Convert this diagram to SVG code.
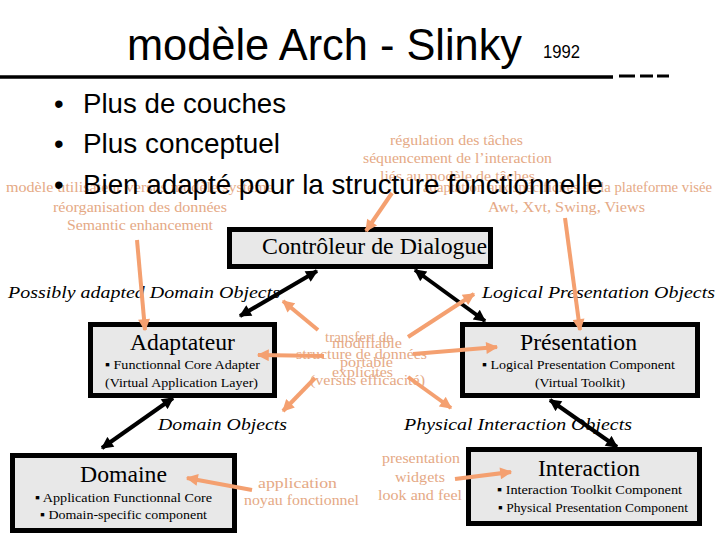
<svg xmlns="http://www.w3.org/2000/svg" width="720" height="540" viewBox="0 0 720 540">
<style>
.title{font-family:"Liberation Sans",Arial,sans-serif;fill:#000}
.bul{font-family:"Liberation Sans",Arial,sans-serif;font-size:27.5px;fill:#000}
.note{font-family:"Liberation Serif","Times New Roman",serif;font-size:14px;fill:#e5a985}
.lab{font-family:"Liberation Serif","Times New Roman",serif;font-size:17px;font-style:italic;fill:#000}
.box{fill:#e8e8e8;stroke:#000;stroke-width:5}
.bt{font-family:"Liberation Serif","Times New Roman",serif;font-size:23px;fill:#000}
.bs{font-family:"Liberation Serif","Times New Roman",serif;font-size:13.5px;fill:#000}
.blk{stroke:#000;stroke-width:4;fill:none;marker-start:url(#ab);marker-end:url(#ab)}
.org{stroke:#f4a070;stroke-width:4;fill:none;marker-end:url(#ao)}
</style>
<defs>
<marker id="ab" viewBox="0 0 10 10" refX="9" refY="5" markerWidth="14" markerHeight="12" markerUnits="userSpaceOnUse" orient="auto-start-reverse"><path d="M0,0 L10,5 L0,10 z" fill="#000"/></marker>
<marker id="ao" viewBox="0 0 10 10" refX="9" refY="5" markerWidth="13" markerHeight="12" markerUnits="userSpaceOnUse" orient="auto"><path d="M0,0 L10,5 L0,10 z" fill="#f4a070"/></marker>
</defs>
<rect width="720" height="540" fill="#fff"/>

<g id="title">
<text class="title" x="127" y="60" font-size="44" textLength="395" lengthAdjust="spacingAndGlyphs">modèle Arch - Slinky</text>
<text class="title" x="543" y="58" font-size="19" textLength="37" lengthAdjust="spacingAndGlyphs">1992</text>
<line x1="0" y1="77" x2="613" y2="77" stroke="#000" stroke-width="3.5"/>
<line x1="619" y1="76" x2="635" y2="76" stroke="#000" stroke-width="3"/>
<line x1="640" y1="76" x2="653" y2="76" stroke="#000" stroke-width="3"/>
<line x1="657" y1="76" x2="669" y2="76" stroke="#000" stroke-width="3"/>
</g>

<g id="bullets">
<text class="bul" x="54" y="113">•</text><text class="bul" x="83" y="113" textLength="203" lengthAdjust="spacingAndGlyphs">Plus de couches</text>
<text class="bul" x="54" y="153">•</text><text class="bul" x="83" y="153" textLength="197" lengthAdjust="spacingAndGlyphs">Plus conceptuel</text>
</g>

<g id="notes">
<text class="note" x="390" y="145" textLength="133" lengthAdjust="spacingAndGlyphs">régulation des tâches</text>
<text class="note" x="363" y="163" textLength="189" lengthAdjust="spacingAndGlyphs">séquencement de l’interaction</text>
<text class="note" x="380" y="181" textLength="155" lengthAdjust="spacingAndGlyphs">liés au modèle de tâches</text>
<text class="note" x="6" y="192" textLength="268" lengthAdjust="spacingAndGlyphs">modèle utilisateur versus modèle système</text>
<text class="note" x="423" y="192" textLength="289" lengthAdjust="spacingAndGlyphs">adaptation aux spécificités de la plateforme visée</text>
<text class="note" x="53" y="212" textLength="174" lengthAdjust="spacingAndGlyphs">réorganisation des données</text>
<text class="note" x="67" y="230" textLength="146" lengthAdjust="spacingAndGlyphs">Semantic enhancement</text>
<text class="note" x="488" y="212" textLength="157" lengthAdjust="spacingAndGlyphs">Awt, Xvt, Swing, Views</text>
<text class="note" x="325" y="342" textLength="68" lengthAdjust="spacingAndGlyphs">transfert de</text>
<text class="note" x="332" y="348" textLength="70" lengthAdjust="spacingAndGlyphs">modifiable</text>
<text class="note" x="296" y="359" textLength="131" lengthAdjust="spacingAndGlyphs">structure de données</text>
<text class="note" x="340" y="367" textLength="53" lengthAdjust="spacingAndGlyphs">portable</text>
<text class="note" x="332" y="377" textLength="61" lengthAdjust="spacingAndGlyphs">explicites</text>
<text class="note" x="310" y="385" textLength="115" lengthAdjust="spacingAndGlyphs">(versus efficacité)</text>
<text class="note" x="258" y="488" textLength="79" lengthAdjust="spacingAndGlyphs">application</text>
<text class="note" x="244" y="505" textLength="115" lengthAdjust="spacingAndGlyphs">noyau fonctionnel</text>
<text class="note" x="382" y="463" textLength="78" lengthAdjust="spacingAndGlyphs">presentation</text>
<text class="note" x="395" y="482" textLength="50" lengthAdjust="spacingAndGlyphs">widgets</text>
<text class="note" x="378" y="500" textLength="84" lengthAdjust="spacingAndGlyphs">look and feel</text>
</g>

<g id="bullet3">
<text class="bul" x="54" y="194">•</text><text class="bul" x="83" y="194" textLength="520" lengthAdjust="spacingAndGlyphs">Bien adapté pour la structure fonctionnelle</text>
</g>

<g id="labels">
<text class="lab" x="8" y="298" textLength="272" lengthAdjust="spacingAndGlyphs">Possibly adapted Domain Objects</text>
<text class="lab" x="482" y="298" textLength="233" lengthAdjust="spacingAndGlyphs">Logical Presentation Objects</text>
<text class="lab" x="158" y="430" textLength="129" lengthAdjust="spacingAndGlyphs">Domain Objects</text>
<text class="lab" x="404" y="430" textLength="228" lengthAdjust="spacingAndGlyphs">Physical Interaction Objects</text>
</g>

<g id="controleur">
<rect class="box" x="229.5" y="229.5" width="261" height="37"/>
<text class="bt" x="262" y="254" font-size="22" textLength="225" lengthAdjust="spacingAndGlyphs">Contrôleur de Dialogue</text>
</g>

<g id="adaptateur">
<rect class="box" x="90.5" y="324.5" width="184" height="71"/>
<text class="bt" x="130" y="350" textLength="105" lengthAdjust="spacingAndGlyphs">Adaptateur</text>
<text class="bs" x="105" y="369" textLength="155" lengthAdjust="spacingAndGlyphs">▪ Functionnal Core Adapter</text>
<text class="bs" x="105" y="387" textLength="153" lengthAdjust="spacingAndGlyphs">(Virtual Application Layer)</text>
</g>

<g id="presentation">
<rect class="box" x="462.5" y="324.5" width="235" height="71"/>
<text class="bt" x="520" y="350" textLength="117" lengthAdjust="spacingAndGlyphs">Présentation</text>
<text class="bs" x="482" y="369" textLength="193" lengthAdjust="spacingAndGlyphs">▪ Logical Presentation Component</text>
<text class="bs" x="535" y="387" textLength="90" lengthAdjust="spacingAndGlyphs">(Virtual Toolkit)</text>
</g>

<g id="domaine">
<rect class="box" x="12.5" y="455.5" width="222" height="75"/>
<text class="bt" x="80" y="482" textLength="87" lengthAdjust="spacingAndGlyphs">Domaine</text>
<text class="bs" x="35" y="502" textLength="177" lengthAdjust="spacingAndGlyphs">▪ Application Functionnal Core</text>
<text class="bs" x="40" y="519" textLength="167" lengthAdjust="spacingAndGlyphs">▪ Domain-specific component</text>
</g>

<g id="interaction">
<rect class="box" x="468.5" y="449.5" width="231" height="74"/>
<text class="bt" x="538" y="476" textLength="102" lengthAdjust="spacingAndGlyphs">Interaction</text>
<text class="bs" x="497" y="494" textLength="185" lengthAdjust="spacingAndGlyphs">▪ Interaction Toolkit Component</text>
<text class="bs" x="498" y="512" textLength="190" lengthAdjust="spacingAndGlyphs">▪ Physical Presentation Component</text>
</g>

<g id="connectors">
<line class="blk" x1="317" y1="271" x2="240" y2="316"/>
<line class="blk" x1="415" y1="270" x2="485" y2="321"/>
<line class="blk" x1="173" y1="398" x2="102" y2="448"/>
<line class="blk" x1="550" y1="400" x2="617" y2="447"/>
<line class="org" x1="392" y1="193" x2="366" y2="231"/>
<line class="org" x1="137" y1="240" x2="145" y2="330"/>
<line class="org" x1="565" y1="218" x2="580" y2="330"/>
<line class="org" x1="318" y1="330" x2="283" y2="301"/>
<line class="org" x1="324" y1="356" x2="258" y2="355"/>
<line class="org" x1="315" y1="378" x2="283" y2="411"/>
<line class="org" x1="408" y1="337" x2="474" y2="294"/>
<line class="org" x1="413" y1="354" x2="497" y2="347"/>
<line class="org" x1="408" y1="377" x2="451" y2="408"/>
<line class="org" x1="252" y1="490" x2="187" y2="478"/>
<line class="org" x1="455" y1="479" x2="511" y2="472"/>
</g>
</svg>
